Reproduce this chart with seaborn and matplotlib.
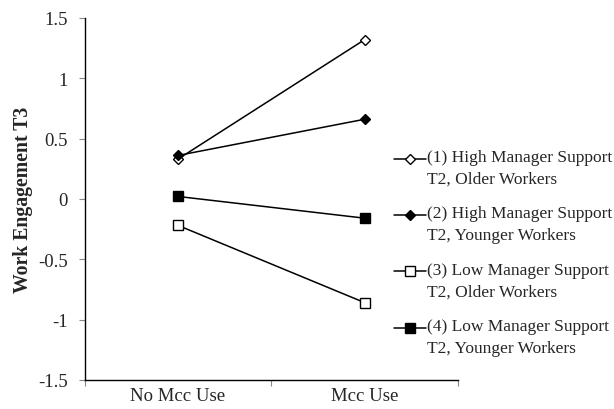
import matplotlib
matplotlib.use("Agg")
import matplotlib.pyplot as plt
import seaborn as sns
import pandas as pd
from matplotlib.ticker import FixedLocator, NullFormatter, FixedFormatter
from matplotlib.legend_handler import HandlerLine2D

# categories on the x axis
conditions = ["No Mcc Use", "Mcc Use"]

# series labels
labels = [
    "(1) High Manager Support\nT2, Older Workers",
    "(2) High Manager Support\nT2, Younger Workers",
    "(3) Low Manager Support\nT2, Older Workers",
    "(4) Low Manager Support\nT2, Younger Workers",
]

# values
high_older = [0.33, 1.32]
high_younger = [0.36, 0.66]
low_older = [-0.22, -0.86]
low_younger = [0.02, -0.16]

series = [high_older, high_younger, low_older, low_younger]
markers = ["D", "D", "s", "s"]
faces = ["white", "black", "white", "black"]
sizes = [5.5, 5.5, 6.5, 6.5]


# legend handle drawn next to the first line of a two-line label
class FirstLineHandler(HandlerLine2D):
    def create_artists(self, legend, orig_handle, xdescent, ydescent,
                       width, height, fontsize, trans):
        artists = super().create_artists(legend, orig_handle, xdescent, ydescent,
                                          width, height, fontsize, trans)
        for a in artists:
            a.set_ydata([y + 6.6 for y in a.get_ydata()])
        return artists


sns.set_style("white")
plt.rcParams["font.family"] = ["Liberation Serif", "DejaVu Serif"]

fig = plt.figure(figsize=(6.14, 4.10), dpi=100)
ax = fig.add_axes([0.138, 0.071, 0.608, 0.883])

for lab, vals, m, fc, ms in zip(labels, series, markers, faces, sizes):
    df = pd.DataFrame({"x": range(len(conditions)), "y": vals})
    sns.lineplot(data=df, x="x", y="y", ax=ax, color="black", linewidth=1.1,
                 marker=m, markersize=ms, markerfacecolor=fc,
                 markeredgecolor="black", markeredgewidth=1.0, label=lab)

ax.set_xlim(-0.5, 1.5)
ax.set_ylim(-1.5, 1.5)
ax.set_yticks([-1.5, -1, -0.5, 0, 0.5, 1, 1.5])
ax.set_yticklabels(["-1.5", "-1", "-0.5", "0", "0.5", "1", "1.5"])

# category boundaries as major ticks, labels at category centres
ax.xaxis.set_major_locator(FixedLocator([-0.5, 0.5, 1.5]))
ax.xaxis.set_major_formatter(NullFormatter())
ax.xaxis.set_minor_locator(FixedLocator([0, 1]))
ax.xaxis.set_minor_formatter(FixedFormatter(conditions))
ax.tick_params(axis="x", which="minor", length=0, pad=5, labelsize=13.5)
ax.tick_params(axis="x", which="major", length=4, width=0.8, direction="out",
               bottom=True, color="#888888")
ax.tick_params(axis="y", length=4, width=0.8, direction="out", left=True,
               labelsize=13.5, pad=8, color="#888888")

for s in ["top", "right"]:
    ax.spines[s].set_visible(False)
for s in ["left", "bottom"]:
    ax.spines[s].set_color("black")
    ax.spines[s].set_linewidth(1.0)

ax.set_xlabel("")
ax.set_ylabel("Work Engagement T3", fontsize=14.2, fontweight="bold", labelpad=4)

handles, labs = ax.get_legend_handles_labels()
leg = ax.legend(handles, labs, loc="upper left", bbox_to_anchor=(0.642, 0.634),
                bbox_transform=fig.transFigure, frameon=False, fontsize=12.5,
                handlelength=1.85, handletextpad=0.05, labelspacing=1.05,
                borderaxespad=0, borderpad=0,
                handler_map={h: FirstLineHandler() for h in handles})
for t in leg.get_texts():
    t.set_linespacing(1.5)

fig.savefig("out.png", dpi=100)
